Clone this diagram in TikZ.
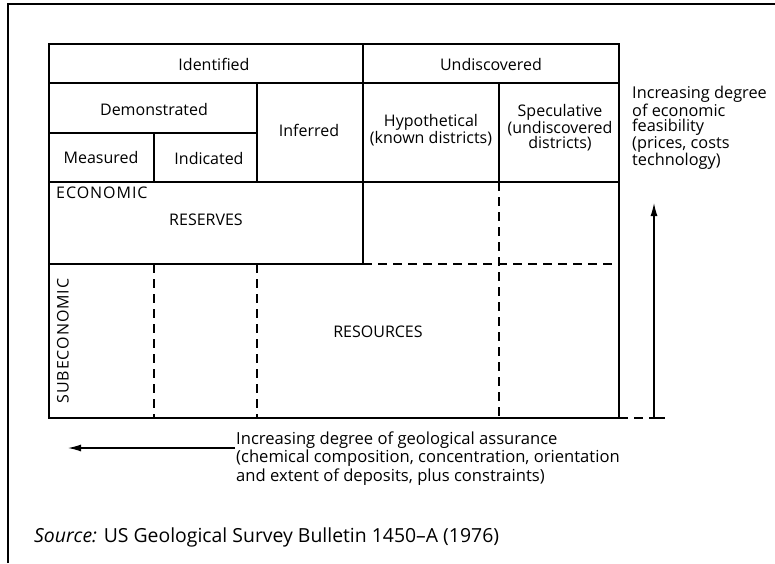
\documentclass[tikz,border=0pt]{standalone}
\usepackage{fontspec}
\setmainfont{Open Sans}
\usetikzlibrary{arrows.meta}
\tikzset{
  grid/.style={line width=1.2pt},
  dgrid/.style={line width=1.2pt, dash pattern=on 9pt off 6pt},
  frameline/.style={line width=1.8pt},
  lbl/.style={font=\fontsize{16}{15}\selectfont, inner sep=0pt},
  wide/.style={font=\fontsize{16}{15}\selectfont\addfontfeature{LetterSpace=6}},
  arr/.style={line width=1.2pt, -{Latex[length=13pt,width=7pt]}}
}
\begin{document}
\begin{tikzpicture}[x=1pt,y=-1pt]
\useasboundingbox (0,0) rectangle (775,563);
% grid coordinates
\foreach \c/\xx in {a/49,b/154,c/257,d/363,e/499,f/619}
  \foreach \r/\yy in {1/44,2/83,3/133,4/182,5/264,6/418}
    \coordinate (\c\r) at (\xx,\yy);
\coordinate (fr0) at (8,4);
\coordinate (fr1) at (775,4);
\coordinate (fr2) at (8,563);
\coordinate (ext) at (654,418);
\coordinate (extr) at (665,418);
\coordinate (vtip) at (654,203);
\coordinate (htail) at (235,448);
\coordinate (htip) at (68,448);
% outer frame
\draw[frameline] (fr2) -- (fr0) -- (fr1);
% solid grid
\draw[grid] (a1) rectangle (f6);
\draw[grid] (a2) -- (f2);
\draw[grid] (a4) -- (f4);
\draw[grid] (a3) -- (c3);
\draw[grid] (d1) -- (d5);
\draw[grid] (c2) -- (c4);
\draw[grid] (b3) -- (b4);
\draw[grid] (e2) -- (e4);
\draw[grid] (a5) -- (d5);
% dashed grid
\draw[dgrid] (d5) -- (f5);
\draw[dgrid] (e4) -- (e6);
\draw[dgrid] (b5) -- (b6);
\draw[dgrid] (c5) -- (c6);
\draw[dgrid] (f6) -- (ext);
\draw[grid] (ext) -- (extr);
% arrows
\draw[arr] (ext) -- (vtip);
\draw[arr] (htail) -- (htip);
% labels
\node[lbl] (ident) at (214,64) {Identified};
\node[lbl] (undisc) at (491,64) {Undiscovered};
\node[lbl] (demo) at (154,109) {Demonstrated};
\node[lbl] (infer) at (309,130) {Inferred};
\node[lbl] (meas) at (101,157) {Measured};
\node[lbl] (indic) at (209,158) {Indicated};
\node[lbl, align=center] (hypo) at (431,130.5) {Hypothetical\\(known districts)};
\node[lbl, align=center] (spec) at (560,128) {Speculative\\(undiscovered\\districts)};
\node[lbl, wide, anchor=west] (econ) at (56,193) {ECONOMIC};
\node[lbl] (resv) at (206,220) {RESERVES};
\node[lbl, wide, rotate=90] (subec) at (63,341) {SUBECONOMIC};
\node[lbl] (resc) at (378,332) {RESOURCES};
\node[lbl, anchor=west, align=left, font=\fontsize{16.3}{15.4}\selectfont] (econfeas) at (632,128)
  {Increasing degree\\of economic\\feasibility\\(prices, costs\\technology)};
\node[lbl, anchor=west, align=left, font=\fontsize{16.6}{18.5}\selectfont] (geoass) at (236,458.5)
  {Increasing degree of geological assurance\\(chemical composition, concentration, orientation\\and extent of deposits, plus constraints)};
\node[lbl, anchor=west, font=\fontsize{19.4}{20}\selectfont] (src) at (34,537)
  {\textit{Source:} US Geological Survey Bulletin 1450--A (1976)};
\end{tikzpicture}
\end{document}
